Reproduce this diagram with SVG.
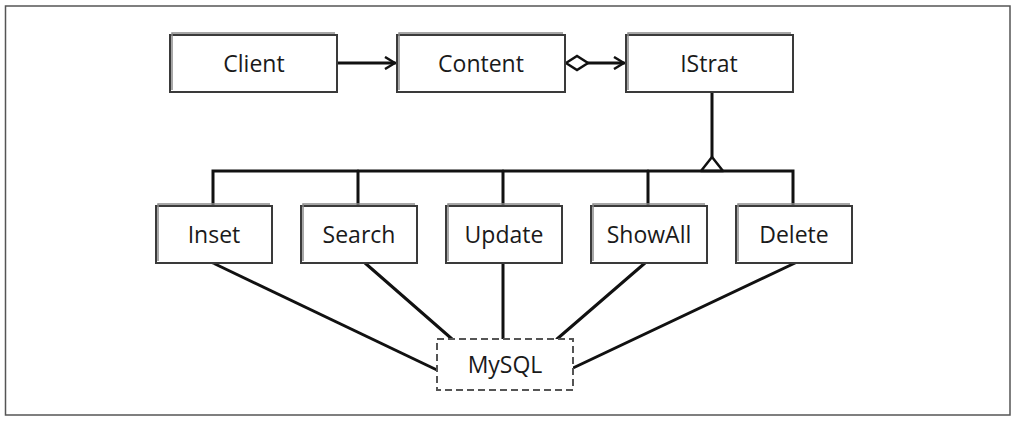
<svg xmlns="http://www.w3.org/2000/svg" width="1019" height="421" viewBox="0 0 1019 421">
<style>
.box{fill:#fff;stroke:#3a3a3a;stroke-width:2}
.sk{fill:none;stroke:#8a8a8a;stroke-width:1.5}
.dash{fill:#fff;stroke:#555;stroke-width:2;stroke-dasharray:7 4}
.lbl{font-family:"Open Sans","Liberation Sans",sans-serif;font-size:23px;fill:#1a1a1a;text-anchor:middle;dominant-baseline:central}
.ln{fill:none;stroke:#111;stroke-width:3;stroke-linecap:round}
</style>
<defs>
<marker id="arr" viewBox="0 0 12 14" refX="11" refY="7" markerWidth="12" markerHeight="14" markerUnits="userSpaceOnUse" orient="auto">
<path d="M1,1 L11,7 L1,13" fill="none" stroke="#111" stroke-width="2.5"/>
</marker>
</defs>
<rect x="5.5" y="6" width="1004.5" height="409" fill="#fff" stroke="#555" stroke-width="1.5"/>
<g id="connectors">
<line class="ln" x1="338" y1="63" x2="395" y2="63" marker-end="url(#arr)"/>
<path d="M566,63 L577,56 L588,63 L577,70 Z" fill="#fff" stroke="#111" stroke-width="2.5"/>
<line class="ln" x1="588" y1="63" x2="624" y2="63" marker-end="url(#arr)"/>
<line class="ln" x1="712" y1="92" x2="712" y2="157"/>
<path d="M712,157 L723,171 L701,171 Z" fill="#fff" stroke="#111" stroke-width="2.5" stroke-linejoin="round"/>
<polyline class="ln" points="213,206 213,171 793,171 793,206"/>
<line class="ln" x1="358" y1="171" x2="358" y2="206"/>
<line class="ln" x1="503" y1="171" x2="503" y2="206"/>
<line class="ln" x1="648" y1="171" x2="648" y2="206"/>
<line class="ln" x1="213" y1="263" x2="437" y2="370"/>
<line class="ln" x1="365" y1="263" x2="452" y2="339"/>
<line class="ln" x1="503" y1="263" x2="503" y2="339"/>
<line class="ln" x1="645" y1="263" x2="557" y2="339"/>
<line class="ln" x1="795" y1="263" x2="573" y2="368"/>
</g>
<g id="client"><rect class="box" x="170" y="35" width="167" height="57"/><polyline class="sk" points="172,90 172,33 335,33"/><text class="lbl" x="254" y="63">Client</text></g>
<g id="content"><rect class="box" x="397" y="35" width="168" height="57"/><polyline class="sk" points="399,90 399,33 563,33"/><text class="lbl" x="481" y="63">Content</text></g>
<g id="istrat"><rect class="box" x="626" y="35" width="167" height="57"/><polyline class="sk" points="628,90 628,33 791,33"/><text class="lbl" x="709" y="63">IStrat</text></g>
<g id="inset"><rect class="box" x="156" y="206" width="116" height="57"/><polyline class="sk" points="158,261 158,204 270,204"/><text class="lbl" x="214" y="234">Inset</text></g>
<g id="search"><rect class="box" x="301" y="206" width="116" height="57"/><polyline class="sk" points="303,261 303,204 415,204"/><text class="lbl" x="359" y="234">Search</text></g>
<g id="update"><rect class="box" x="446" y="206" width="116" height="57"/><polyline class="sk" points="448,261 448,204 560,204"/><text class="lbl" x="504" y="234">Update</text></g>
<g id="showall"><rect class="box" x="591" y="206" width="116" height="57"/><polyline class="sk" points="593,261 593,204 705,204"/><text class="lbl" x="649" y="234">ShowAll</text></g>
<g id="delete"><rect class="box" x="736" y="206" width="116" height="57"/><polyline class="sk" points="738,261 738,204 850,204"/><text class="lbl" x="794" y="234">Delete</text></g>
<g id="mysql"><rect class="dash" x="437" y="339" width="136" height="51"/><text class="lbl" x="505" y="364">MySQL</text></g>
</svg>
